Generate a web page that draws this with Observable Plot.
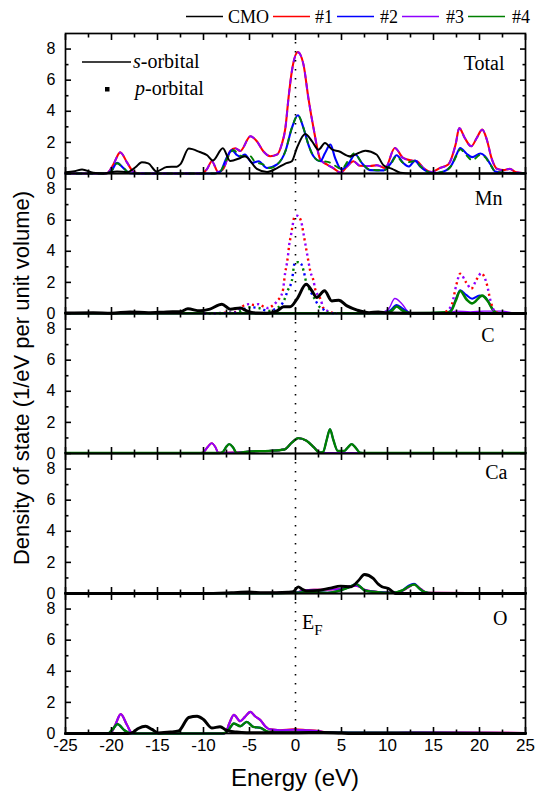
<!DOCTYPE html>
<html><head><meta charset="utf-8">
<script src="https://cdn.jsdelivr.net/npm/d3@7"></script>
<script src="https://cdn.jsdelivr.net/npm/@observablehq/plot@0.6"></script>
<style>
body{margin:0;background:#fff;}
#wrap{position:relative;width:535px;height:796px;overflow:hidden;background:#fff;}
#wrap svg.plot{position:absolute;left:0;top:0;}
.ov{position:absolute;white-space:nowrap;color:#000;}
.serif{font-family:"Liberation Serif","Times New Roman",serif;}
.sans{font-family:"Liberation Sans",Arial,sans-serif;}
</style>
</head><body>
<div id="wrap"></div>
<script>
// ---------- data ----------
const panels = ["Total", "Mn", "C", "Ca", "O"];
const seriesNames = ["CMO", "#1", "#2", "#3", "#4"];
const xMajorTicks = [-25, -20, -15, -10, -5, 0, 5, 10, 15, 20, 25];
const xMinorTicks = [-22.5, -17.5, -12.5, -7.5, -2.5, 2.5, 7.5, 12.5, 17.5, 22.5];
const yMajorTicks = [0, 2, 4, 6, 8];
const yMinorTicks = [1, 3, 5, 7];
const fermiLevel = [0];

// Total DOS
const totalCMO = [[-25,0.08],[-24,0.15],[-23.2,0.26],[-22,0.05],[-20.9,0],[-19.4,0.13],[-18.3,0.08],[-17.4,0.4],[-16.7,0.72],[-16.0,0.65],[-15.1,0.13],[-14.0,0.42],[-12.9,0.44],[-12.5,0.6],[-11.6,1.6],[-10.4,1.38],[-9.6,1.17],[-9.0,0.83],[-7.9,1.62],[-7.1,0.8],[-6.0,1.0],[-5.5,1.11],[-4.2,0.3],[-3.1,0.1],[-2.0,0.35],[-1.1,0.64],[-0.4,0.79],[0.15,1.64],[1.05,2.54],[1.8,2.07],[2.5,1.53],[3.2,1.96],[4.0,1.53],[4.7,1.43],[5.9,1.11],[7.6,1.47],[8.8,1.22],[9.6,0.51],[10.5,0.3],[11.4,0.05],[12.5,0],[25,0]];
const total1 = [[-25,0],[-21,0],[-20.5,0.02],[-19.8,0.58],[-19.05,1.36],[-18.3,0.7],[-17.6,0.1],[-16.9,0],[-10.2,0],[-9.6,0.3],[-9.1,0.79],[-8.4,0.1],[-7.8,0.35],[-7.1,1.43],[-6.55,1.62],[-6.0,1.45],[-4.9,2.39],[-4.2,2.07],[-3.5,1.43],[-2.75,1.11],[-2.0,1.22],[-1.5,1.86],[-1.1,2.92],[-0.76,4.85],[-0.4,6.56],[0.26,7.8],[0.87,7.0],[1.4,4.85],[1.96,2.92],[2.7,0.9],[3.4,0.58],[4.1,0.35],[4.9,0.05],[5.6,0.45],[6.3,0.79],[7.0,0.5],[8.1,0.48],[8.85,0.53],[9.75,0.35],[10.8,1.64],[11.7,1.0],[12.65,0.83],[13.2,0.79],[13.9,0.35],[14.8,0.1],[15.7,0.35],[16.6,0.58],[17.4,1.86],[17.8,2.92],[18.4,2.28],[19.1,1.75],[19.7,2.28],[20.3,2.82],[20.8,2.17],[21.3,1.0],[21.9,0.3],[22.6,0.22],[23.3,0.3],[23.9,0.1],[25,0.02]];
const total3 = [[-25,0],[-21,0],[-20.5,0.02],[-19.8,0.58],[-19.05,1.36],[-18.3,0.7],[-17.6,0.1],[-16.9,0],[-10.2,0],[-9.6,0.3],[-9.1,0.79],[-8.4,0.1],[-7.8,0.35],[-7.1,1.43],[-6.55,1.62],[-6.0,1.45],[-4.9,2.39],[-4.2,2.07],[-3.5,1.43],[-2.75,1.11],[-2.0,1.22],[-1.5,1.86],[-1.1,2.92],[-0.76,4.85],[-0.4,6.56],[0.26,7.8],[0.87,7.0],[1.4,4.85],[1.96,2.92],[2.7,0.9],[3.4,0.58],[4.1,0.35],[4.9,0.05],[5.6,0.45],[6.3,0.79],[7.0,0.5],[8.1,0.48],[8.85,0.53],[9.75,0.35],[10.8,1.64],[11.7,1.0],[12.65,0.83],[13.2,0.79],[13.9,0.35],[14.8,0.1],[15.7,0.35],[16.6,0.58],[17.4,1.86],[17.8,2.92],[18.4,2.28],[19.1,1.75],[19.7,2.28],[20.3,2.82],[20.8,2.17],[21.3,1.0],[21.9,0.3],[22.6,0.22],[23.3,0.3],[23.9,0.1],[25,0.02]];
const total2 = [[-25,0],[-20.8,0],[-20.1,0.1],[-19.4,0.68],[-18.7,0.35],[-18.0,0.02],[-17,0],[-8.8,0],[-8.2,0.1],[-7.5,1.0],[-6.9,1.5],[-6.4,1.2],[-6.0,1.08],[-5.5,1.22],[-4.7,0.68],[-4.0,0.79],[-3.1,0.35],[-2.0,0.58],[-1.1,1.43],[-0.4,2.92],[0.26,3.74],[0.87,2.92],[1.4,1.86],[1.96,1.11],[2.7,0.79],[3.2,1.3],[3.8,1.86],[4.3,1.0],[5.0,0.26],[5.8,0.68],[6.5,1.22],[7.2,0.68],[8.1,0.22],[9.6,0.2],[10.3,0.6],[11.0,1.17],[11.7,0.68],[12.3,0.45],[13.0,0.83],[13.55,0.45],[14.3,0.13],[15.0,0.02],[16.1,0.13],[17.0,0.58],[17.5,1.22],[17.9,1.64],[18.6,1.27],[19.2,1.05],[20.1,1.29],[20.6,1.11],[21.2,0.58],[21.7,0.13],[22.6,0.05],[25,0.02]];
const total4 = [[-25,0],[-20.8,0],[-20.1,0.1],[-19.4,0.66],[-18.7,0.35],[-18.0,0.02],[-17,0],[-8.8,0],[-8.2,0.1],[-7.5,0.9],[-6.7,1.5],[-6.2,1.2],[-5.6,1.1],[-5.0,1.15],[-4.4,0.75],[-3.6,0.6],[-2.8,0.35],[-2.0,0.58],[-1.1,1.43],[-0.4,2.92],[0.26,3.74],[0.87,2.92],[1.4,1.86],[1.96,1.11],[2.7,0.79],[3.5,0.75],[4.3,0.5],[5.0,0.3],[5.8,0.9],[6.4,1.3],[7.2,0.7],[8.1,0.25],[9.6,0.2],[10.3,0.55],[11.0,1.1],[11.7,0.7],[12.5,0.75],[13.0,0.8],[13.6,0.45],[14.3,0.13],[15.0,0.02],[16.1,0.13],[17.0,0.55],[17.5,1.15],[17.9,1.55],[18.6,1.15],[19.2,0.85],[20.1,1.2],[20.6,1.05],[21.2,0.55],[21.7,0.13],[22.6,0.05],[25,0.02]];

// Mn partial DOS
const mnCMO = [[-25,0.03],[-22,0.05],[-20,0.02],[-18,0.1],[-16,0.05],[-14,0.1],[-12.5,0.12],[-11.7,0.3],[-10.4,0.17],[-9.3,0.28],[-8.0,0.6],[-7.1,0.28],[-6.0,0.35],[-5.3,0.17],[-4.2,0.03],[-3.1,0.02],[-2.0,0.17],[-1.3,0.43],[-0.58,0.43],[0.15,0.92],[1.16,1.88],[1.78,1.46],[2.3,1.03],[3.15,1.46],[3.95,0.81],[4.7,0.85],[5.6,0.49],[6.7,0.22],[8,0.05],[9,0.1],[10,0.03],[12,0.02],[25,0]];
const mnP1 = [[-10,0],[-6.5,0.1],[-5.5,0.55],[-5.0,0.6],[-4.5,0.55],[-4.0,0.6],[-3.5,0.45],[-3.0,0.35],[-2.5,0.5],[-2.0,0.8],[-1.4,1.4],[-1.12,2.63],[-0.94,3.2],[-0.8,3.8],[-0.69,4.4],[-0.5,5.0],[-0.33,5.6],[-0.12,6.2],[0.2,6.28],[0.5,6.1],[0.7,5.7],[0.88,5.1],[1.06,4.5],[1.24,3.9],[1.42,3.3],[1.6,2.74],[1.96,2.1],[2.14,1.56],[2.5,1.13],[2.75,0.9],[3.0,0.38],[3.6,0.13],[4.5,0]];
const mnP1high = [[16.3,0.1],[17.0,0.6],[17.5,1.88],[17.9,2.56],[18.55,2.0],[19.1,1.6],[19.7,2.2],[20.2,2.59],[20.8,1.88],[21.2,0.81],[21.7,0.1],[22.3,0]];
const mnP2 = [[-10,0],[-6.5,0.05],[-5.0,0.4],[-4.0,0.35],[-3.0,0.17],[-2.0,0.35],[-1.2,0.9],[-0.86,1.46],[-0.4,2.1],[-0.07,3.27],[0.3,3.3],[0.6,3.2],[0.93,2.63],[1.15,2.03],[1.6,1.46],[2.1,0.92],[2.6,0.43],[3.0,0.28],[3.6,0.05],[4.5,0]];
const mnS2 = [[-25,0.01],[9.5,0.01],[10.3,0.2],[11.0,0.55],[11.7,0.3],[12.5,0.02],[16.5,0.05],[17.0,0.3],[17.5,1.03],[17.9,1.5],[18.55,1.2],[19.2,0.95],[20.0,1.15],[20.6,1.05],[21.4,0.3],[21.8,0.03],[25,0.01]];
const mnS3 = [[-25,0.02],[9,0.02],[10.1,0.28],[10.8,0.96],[11.6,0.6],[12.3,0.1],[13,0.02],[16.5,0.05],[17.5,0.15],[19,0.1],[20.5,0.15],[22.5,0.15],[23.5,0.05],[25,0.02]];
const mnS4 = [[-25,0.02],[9.5,0.02],[10.4,0.15],[11.0,0.45],[11.6,0.2],[12.5,0.02],[16.8,0.1],[17.4,0.8],[17.9,1.45],[18.6,0.9],[19.2,0.65],[20.3,1.15],[20.9,0.8],[21.5,0.2],[22,0.02],[25,0.02]];

// C partial DOS
const c1 = [[-25,0.03],[-10.5,0.03],[-10.1,0.05],[-9.5,0.45],[-9.1,0.67],[-8.7,0.4],[-8.4,0.06],[-7.5,0.05],[-5.5,0.1],[-4.9,0.13],[-2.9,0.17],[-1.2,0.26],[-0.4,0.7],[0.3,0.99],[1.2,0.82],[2.0,0.4],[2.5,0.13],[2.9,0.03],[25,0.03]];
const c3 = [[-25,0.03],[-10.5,0.03],[-10.1,0.05],[-9.5,0.45],[-9.1,0.67],[-8.7,0.4],[-8.4,0.06],[-7.5,0.05],[-5.5,0.1],[-4.9,0.13],[-2.9,0.17],[-1.2,0.26],[-0.4,0.7],[0.3,0.99],[1.2,0.82],[2.0,0.4],[2.5,0.13],[2.9,0.03],[25,0.03]];
const c2 = [[-25,0.03],[-8.3,0.03],[-7.9,0.1],[-7.5,0.45],[-7.2,0.6],[-6.8,0.4],[-6.4,0.04],[-5.5,0.1],[-4.9,0.13],[-2.9,0.17],[-1.2,0.26],[-0.4,0.7],[0.3,0.99],[1.2,0.82],[2.0,0.4],[2.6,0.06],[3.0,0.1],[3.4,0.9],[3.75,1.57],[4.1,0.9],[4.6,0.17],[5.3,0.17],[5.7,0.4],[6.1,0.6],[6.5,0.4],[7.0,0.06],[7.5,0.03],[25,0.03]];
const c4 = [[-25,0.03],[-8.3,0.03],[-7.9,0.1],[-7.5,0.45],[-7.2,0.6],[-6.8,0.4],[-6.4,0.04],[-5.5,0.1],[-4.9,0.13],[-2.9,0.17],[-1.2,0.26],[-0.4,0.7],[0.3,0.99],[1.2,0.82],[2.0,0.4],[2.6,0.06],[3.0,0.1],[3.4,0.9],[3.75,1.57],[4.1,0.9],[4.6,0.17],[5.3,0.17],[5.7,0.4],[6.1,0.6],[6.5,0.4],[7.0,0.06],[7.5,0.03],[25,0.03]];

// Ca partial DOS
const caCMO = [[-25,0],[-10,0],[-7,0.05],[-5.1,0.1],[-3.5,0.05],[-2.1,0.05],[-0.8,0.08],[-0.25,0.12],[0.3,0.43],[0.8,0.25],[1.2,0.17],[2.0,0.18],[2.7,0.21],[3.8,0.35],[4.9,0.47],[6.05,0.43],[6.8,0.8],[7.5,1.22],[8.45,0.97],[9.0,0.6],[9.4,0.43],[10.1,0.32],[10.6,0.1],[10.9,0],[25,0]];
const ca1 = [[-25,0.02],[0,0.05],[0.8,0.2],[2,0.25],[3.5,0.25],[4.9,0.3],[5.8,0.45],[6.6,0.5],[7.5,0.25],[9,0.1],[11,0.05],[12.3,0.4],[12.9,0.6],[13.6,0.3],[14.3,0.05],[25,0.02]];
const ca3 = [[-25,0.02],[0,0.05],[0.8,0.2],[2,0.25],[3.5,0.25],[4.9,0.3],[5.8,0.45],[6.6,0.5],[7.5,0.25],[9,0.1],[11,0.05],[12.3,0.4],[12.9,0.6],[13.6,0.3],[14.3,0.05],[25,0.02]];
const ca2 = [[-25,0.02],[-2,0.02],[0,0.05],[1.5,0.1],[3.45,0.04],[4.9,0.2],[5.8,0.4],[6.6,0.6],[7.2,0.35],[7.5,0.2],[8.6,0.1],[10.5,0.04],[11.6,0.2],[12.3,0.5],[12.9,0.62],[13.5,0.3],[14.0,0.1],[14.9,0.02],[25,0.02]];
const ca4 = [[-25,0.02],[-2,0.02],[0,0.05],[1.5,0.1],[3.45,0.04],[4.9,0.2],[5.8,0.4],[6.6,0.6],[7.2,0.35],[7.5,0.2],[8.6,0.1],[10.5,0.04],[11.6,0.2],[12.3,0.45],[12.9,0.58],[13.5,0.3],[14.0,0.1],[14.9,0.02],[25,0.02]];

// O partial DOS
const oCMO = [[-25,0],[-18.2,0],[-17.8,0.04],[-17.1,0.32],[-16.3,0.47],[-15.6,0.26],[-14.9,0.04],[-13.6,0.09],[-12.7,0.17],[-11.6,1.03],[-10.7,1.11],[-10.0,0.9],[-9.1,0.36],[-8.2,0.43],[-7.5,0.21],[-6.4,0.09],[-5.3,0.05],[0,0.05],[3,0.07],[5,0.03],[6,0],[25,0]];
const o1 = [[-25,0],[-20.6,0],[-20.1,0.04],[-19.6,0.53],[-19.0,1.24],[-18.3,0.53],[-17.8,0.04],[-17.3,0],[-8,0],[-7.6,0.04],[-7.2,0.64],[-6.7,1.2],[-6.0,0.79],[-5.5,1.07],[-4.9,1.39],[-4.4,1.11],[-3.8,0.85],[-3.3,0.47],[-2.75,0.26],[-1.7,0.21],[-0.2,0.26],[1.2,0.21],[2.5,0.15],[3.5,0.05],[10,0.05],[12,0.08],[25,0.03]];
const o3 = [[-25,0],[-20.6,0],[-20.1,0.04],[-19.6,0.53],[-19.0,1.24],[-18.3,0.53],[-17.8,0.04],[-17.3,0],[-8,0],[-7.6,0.04],[-7.2,0.64],[-6.7,1.2],[-6.0,0.79],[-5.5,1.07],[-4.9,1.39],[-4.4,1.11],[-3.8,0.85],[-3.3,0.47],[-2.75,0.26],[-1.7,0.21],[-0.2,0.24],[1.2,0.21],[2.5,0.15],[3.5,0.05],[10,0.05],[12,0.08],[25,0.03]];
const o2 = [[-25,0],[-20.4,0],[-19.8,0.32],[-19.35,0.6],[-18.6,0.21],[-18.1,0.04],[-17.5,0],[-8,0],[-7.6,0.05],[-7.3,0.21],[-6.7,0.64],[-6.0,0.47],[-5.3,0.75],[-4.6,0.43],[-3.8,0.36],[-3.0,0.11],[-2,0.05],[3,0.05],[25,0.02]];
const o4 = [[-25,0],[-20.4,0],[-19.8,0.32],[-19.35,0.6],[-18.6,0.21],[-18.1,0.04],[-17.5,0],[-8,0],[-7.6,0.05],[-7.3,0.21],[-6.7,0.64],[-6.0,0.47],[-5.3,0.75],[-4.6,0.43],[-3.8,0.36],[-3.0,0.11],[-2,0.05],[3,0.05],[25,0.02]];

// ---------- styles ----------
const colors = {"CMO": "#000000", "#1": "#ff0000", "#2": "#0000ff", "#3": "#8f00ff", "#4": "#008000"};
const serif = "Liberation Serif, Times New Roman, serif";
const sans = "Liberation Sans, Arial, sans-serif";

const rows = (pts, panel) => pts.map(([x, y]) => ({x, y, panel}));
const L = (pts, panel, name, opts = {}) => Plot.line(rows(pts, panel), {
  x: "x", y: "y", fy: "panel", curve: "monotone-x",
  stroke: colors[name], strokeWidth: 1.9, strokeLinejoin: "round", ...opts
});
const dash = {strokeDasharray: "5 6", strokeWidth: 1.9};
const dots = {strokeDasharray: "2.2 8", strokeWidth: 2.4, strokeLinecap: "butt"};

const labelOffsets = {Total: [-21, 22], Mn: [-23, 17], C: [-31, 14], Ca: [-18, 11], O: [-18, 17]};

const plot = Plot.plot({
  width: 535, height: 796,
  marginTop: 32, marginBottom: 62, marginLeft: 65, marginRight: 10,
  style: {fontFamily: sans, background: "transparent", overflow: "visible"},
  x: {domain: [-25, 25]},
  y: {domain: [0, 9]},
  fy: {domain: panels, padding: 0, axis: null, label: null},
  marks: [
    // Total
    L(total1, "Total", "#1", {strokeWidth: 2.1}),
    L(total3, "Total", "#3", dash),
    L(total2, "Total", "#2", {strokeWidth: 2.1}),
    L(total4, "Total", "#4", dash),
    L(totalCMO, "Total", "CMO", {strokeWidth: 2}),
    // Mn
    L(mnS3, "Mn", "#3", {strokeWidth: 1.4}),
    L(mnS2, "Mn", "#2", {strokeWidth: 2}),
    L(mnS4, "Mn", "#4", {strokeWidth: 2.6}),
    L(mnP1, "Mn", "#1", dots),
    L(mnP1, "Mn", "#3", {...dots, strokeDashoffset: 5}),
    L(mnP1high, "Mn", "#1", dots),
    L(mnP1high, "Mn", "#3", {...dots, strokeDashoffset: 5}),
    L(mnP2, "Mn", "#2", dots),
    L(mnP2, "Mn", "#4", {...dots, strokeDashoffset: 5}),
    L(mnCMO, "Mn", "CMO", {strokeWidth: 3}),
    // C
    L(c1, "C", "#1"),
    L(c2, "C", "#2"),
    L(c3, "C", "#3"),
    L(c4, "C", "#4", {strokeWidth: 2.4}),
    // Ca
    L(ca1, "Ca", "#1"),
    L(ca3, "Ca", "#3"),
    L(ca2, "Ca", "#2", {strokeWidth: 2.2}),
    L(ca4, "Ca", "#4", {strokeWidth: 2.4}),
    L(caCMO, "Ca", "CMO", {strokeWidth: 2.8}),
    // O
    L(o1, "O", "#1", {strokeWidth: 2.2}),
    L(o3, "O", "#3", {strokeWidth: 2.2}),
    L(o2, "O", "#2", {strokeWidth: 2.2}),
    L(o4, "O", "#4", {strokeWidth: 2.4}),
    L(oCMO, "O", "CMO", {strokeWidth: 3}),
    // Fermi level
    Plot.ruleX(fermiLevel, {stroke: "#000", strokeWidth: 1.6, strokeDasharray: "1.6 7.4"}),
    // frames & ticks
    Plot.frame({stroke: "#000", strokeWidth: 1.7}),
    Plot.axisY(yMajorTicks, {anchor: "left", tickSize: -6, strokeWidth: 1.6, fill: "none", label: null}),
    Plot.axisY(yMinorTicks, {anchor: "left", tickSize: -3.5, strokeWidth: 1.6, fill: "none", label: null}),
    Plot.axisY(yMajorTicks, {anchor: "right", tickSize: -6, strokeWidth: 1.6, fill: "none", label: null}),
    Plot.axisY(yMinorTicks, {anchor: "right", tickSize: -3.5, strokeWidth: 1.6, fill: "none", label: null}),
    Plot.axisY(yMajorTicks, {anchor: "left", tickSize: 0, tickPadding: 10, fontSize: 16, label: null, tickFormat: d => String(d)}),
    Plot.axisX(xMajorTicks, {anchor: "bottom", tickSize: -6, strokeWidth: 1.6, fill: "none", label: null, facetAnchor: null}),
    Plot.axisX(xMinorTicks, {anchor: "bottom", tickSize: -3.5, strokeWidth: 1.6, fill: "none", label: null, facetAnchor: null}),
    Plot.axisX(xMajorTicks, {anchor: "top", tickSize: -6, strokeWidth: 1.6, fill: "none", label: null, facetAnchor: null}),
    Plot.axisX(xMinorTicks, {anchor: "top", tickSize: -3.5, strokeWidth: 1.6, fill: "none", label: null, facetAnchor: null}),
    Plot.axisX(xMajorTicks, {anchor: "bottom", tickSize: 0, tickPadding: 5, fontSize: 17, label: null, tickFormat: d => String(d)}),
    // panel labels
    ...panels.map(p => Plot.text([p], {
      fy: d => d, text: d => d, frameAnchor: "top-right", textAnchor: "end", lineAnchor: "top",
      dx: labelOffsets[p][0], dy: labelOffsets[p][1], fontFamily: serif, fontSize: 20, fill: "#000"
    }))
  ]
});
plot.classList.add("plot");
const wrap = document.getElementById("wrap");
wrap.appendChild(plot);

// ---------- overlays (legend, axis titles, annotations) ----------
function add(html, style, cls = "ov") {
  const d = document.createElement("div");
  d.className = cls;
  d.innerHTML = html;
  Object.assign(d.style, style);
  wrap.appendChild(d);
  return d;
}
// top legend
const legendLayout = [[186, 228], [273, 315], [337, 380], [402, 446], [468, 512]];
const ns = "http://www.w3.org/2000/svg";
const lsvg = document.createElementNS(ns, "svg");
lsvg.setAttribute("width", 535); lsvg.setAttribute("height", 30);
Object.assign(lsvg.style, {position: "absolute", left: "0px", top: "0px"});
seriesNames.forEach((name, i) => {
  const [x0, tx] = legendLayout[i];
  const ln = document.createElementNS(ns, "line");
  ln.setAttribute("x1", x0); ln.setAttribute("x2", x0 + 37);
  ln.setAttribute("y1", 16.5); ln.setAttribute("y2", 16.5);
  ln.setAttribute("stroke", colors[name]); ln.setAttribute("stroke-width", 1.6);
  lsvg.appendChild(ln);
  const t = document.createElementNS(ns, "text");
  t.setAttribute("x", tx); t.setAttribute("y", 22.5);
  t.setAttribute("font-family", serif); t.setAttribute("font-size", 18);
  t.textContent = name;
  lsvg.appendChild(t);
});
wrap.appendChild(lsvg);

// orbital legend in Total panel
const osvg = document.createElementNS(ns, "svg");
osvg.setAttribute("width", 220); osvg.setAttribute("height", 70);
Object.assign(osvg.style, {position: "absolute", left: "70px", top: "40px"});
osvg.innerHTML = `<line x1="12" x2="61" y1="22" y2="22" stroke="#000" stroke-width="1.6"/>
<rect x="35" y="47" width="4.5" height="4.5" fill="#000"/>
<text x="63" y="28" font-family="${serif}" font-size="20"><tspan font-style="italic">s</tspan>-orbital</text>
<text x="65" y="55" font-family="${serif}" font-size="20"><tspan font-style="italic">p</tspan>-orbital</text>`;
wrap.appendChild(osvg);

// E_F annotation
add('E<sub style="font-size:15px;vertical-align:-6px">F</sub>', {left: "302px", top: "612px", fontSize: "20px", lineHeight: "20px"}, "ov serif");

// axis titles
add("Energy (eV)", {left: "0px", width: "590px", textAlign: "center", top: "764px", fontSize: "24px", lineHeight: "28px"}, "ov sans");
add("Density of state (1/eV per unit volume)", {left: "-188px", top: "365px", width: "420px", height: "26px", textAlign: "center", fontSize: "22px", lineHeight: "26px", transform: "rotate(-90deg)", transformOrigin: "center center"}, "ov sans");
</script>
</body></html>
